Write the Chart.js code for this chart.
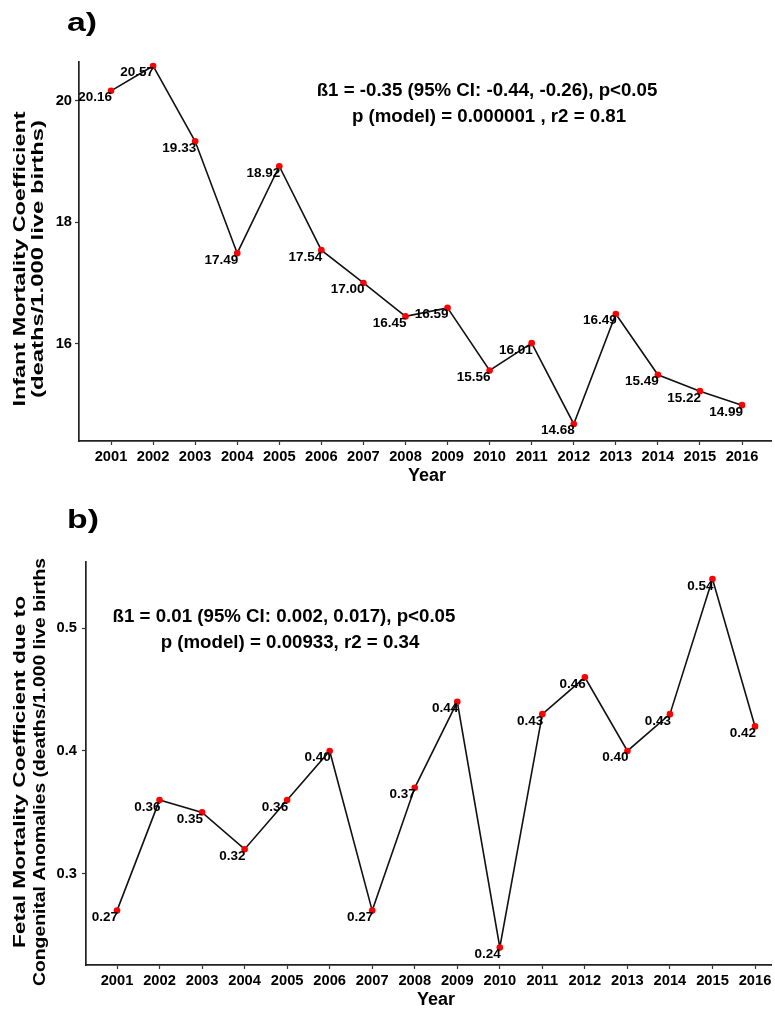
<!DOCTYPE html>
<html>
<head>
<meta charset="utf-8">
<title>Infant and fetal mortality, 2001-2016</title>
<script src="https://cdn.jsdelivr.net/npm/chart.js@4.4.1/dist/chart.umd.min.js"></script>
<style>
  html, body { margin: 0; padding: 0; background: #fff; }
  #wrap { position: relative; width: 775px; height: 1011px; overflow: hidden; }
  #chartA { position: absolute; left: 0; top: 0; }
  #chartB { position: absolute; left: 0; top: 495px; }
</style>
</head>
<body>
<div id="wrap">
  <canvas id="chartA" width="775" height="495"></canvas>
  <canvas id="chartB" width="775" height="516"></canvas>
</div>
<script>
// data
const years = [2001, 2002, 2003, 2004, 2005, 2006, 2007, 2008, 2009, 2010, 2011, 2012, 2013, 2014, 2015, 2016];
const infantRate = [20.16, 20.57, 19.33, 17.49, 18.92, 17.54, 17.00, 16.45, 16.59, 15.56, 16.01, 14.68, 16.49, 15.49, 15.22, 14.99];
const fetalRate = [0.27, 0.36, 0.35, 0.32, 0.36, 0.40, 0.27, 0.37, 0.44, 0.24, 0.43, 0.46, 0.40, 0.43, 0.54, 0.42];
const infantTicks = [16, 18, 20];
const fetalTicks = [0.3, 0.4, 0.5];

const infantTitle = ['Infant Mortality Coefficient', '(deaths/1.000 live births)'];
const fetalTitle = ['Fetal Mortality Coefficient due to', 'Congenital Anomalies (deaths/1.000 live births'];
const infantNote = ['ß1 = -0.35 (95% CI: -0.44, -0.26), p<0.05', 'p (model) = 0.000001 , r2 = 0.81'];
const fetalNote = ['ß1 = 0.01 (95% CI: 0.002, 0.017), p<0.05', 'p (model) = 0.00933, r2 = 0.34'];

const FONT = '"Liberation Sans", Arial, sans-serif';
const INK = '#000';

// value labels, right/top aligned on each point (like hjust=1, vjust=1)
const pointLabels = {
    id: 'pointLabels',
    afterDatasetsDraw(chart) {
        const ctx = chart.ctx;
        const meta = chart.getDatasetMeta(0);
        const values = chart.data.datasets[0].data;
        ctx.save();
        ctx.font = 'bold 13.5px ' + FONT;
        ctx.fillStyle = INK;
        ctx.textAlign = 'right';
        ctx.textBaseline = 'top';
        meta.data.forEach((pt, i) => {
            ctx.fillText(values[i].y.toFixed(2), pt.x + 1, pt.y);
        });
        ctx.restore();
    }
};

// panel letter, regression note and the two-line y title
const panelText = {
    id: 'panelText',
    afterDraw(chart, args, opts) {
        const ctx = chart.ctx;
        ctx.save();
        ctx.fillStyle = INK;

        ctx.font = 'bold 26px ' + FONT;
        ctx.textAlign = 'left';
        ctx.textBaseline = 'middle';
        ctx.save();
        ctx.translate(opts.letterAt[0], opts.letterAt[1]);
        ctx.scale(1.3, 1);
        ctx.fillText(opts.letter, 0, 0);
        ctx.restore();

        ctx.font = 'bold 18.7px ' + FONT;
        ctx.textAlign = 'center';
        opts.note.forEach((line, i) => {
            ctx.fillText(line, opts.noteAt[i][0], opts.noteAt[i][1]);
        });

        ctx.font = 'bold 16.5px ' + FONT;
        opts.yTitle.forEach((line, i) => {
            const [x, len] = opts.yTitleAt[i];
            ctx.save();
            ctx.translate(x, opts.yTitleCenter);
            ctx.rotate(-Math.PI / 2);
            ctx.scale(len / ctx.measureText(line).width, 1);
            ctx.fillText(line, 0, 0);
            ctx.restore();
        });

        // "Year" is centred a bit right of the axis in panel b
        ctx.font = 'bold 18px ' + FONT;
        ctx.fillText('Year', opts.yearAt[0], opts.yearAt[1]);
        ctx.restore();
    }
};

function makePanel(canvasId, values, yTicks, cfg) {
    const ctx = document.getElementById(canvasId).getContext('2d');
    return new Chart(ctx, {
        type: 'line',
        data: {
            datasets: [{
                data: years.map((y, i) => ({ x: y, y: values[i] })),
                borderColor: '#111',
                borderWidth: 1.6,
                pointRadius: 3.3,
                pointBackgroundColor: '#ff0000',
                pointBorderColor: '#ff0000',
                pointBorderWidth: 0,
                tension: 0
            }]
        },
        options: {
            responsive: false,
            animation: false,
            devicePixelRatio: 1,
            layout: { padding: { left: 0, top: cfg.top, right: 4, bottom: 0 } },
            plugins: {
                legend: { display: false },
                tooltip: { enabled: false },
                panelText: cfg.text
            },
            scales: {
                x: {
                    type: 'linear',
                    min: cfg.xMin,
                    max: cfg.xMax,
                    afterBuildTicks: s => { s.ticks = years.map(v => ({ value: v })); },
                    afterFit: s => { s.height = cfg.xHeight; },
                    grid: { drawOnChartArea: false, tickLength: 4, tickColor: '#333', tickWidth: 1.2 },
                    border: { color: '#222', width: 1.7 },
                    ticks: {
                        autoSkip: false,
                        maxRotation: 0,
                        padding: cfg.xPad,
                        color: INK,
                        font: { family: FONT, size: 14.7, weight: 'bold' },
                        callback: v => String(v)
                    }
                },
                y: {
                    min: cfg.yMin,
                    max: cfg.yMax,
                    afterBuildTicks: s => { s.ticks = yTicks.map(v => ({ value: v })); },
                    afterFit: s => { s.width = cfg.yWidth; },
                    grid: { drawOnChartArea: false, tickLength: 4, tickColor: '#333', tickWidth: 1.2 },
                    border: { color: '#222', width: 1.7 },
                    ticks: {
                        padding: cfg.yPad,
                        color: INK,
                        font: { family: FONT, size: 14.7, weight: 'bold' },
                        callback: cfg.fmt
                    }
                }
            }
        },
        plugins: [pointLabels, panelText]
    });
}

document.addEventListener('DOMContentLoaded', function () {
    makePanel('chartA', infantRate, infantTicks, {
        top: 62, xHeight: 54, yWidth: 79,
        xMin: 2000.239, xMax: 2016.689,
        yMin: 14.40, yMax: 20.635,
        xPad: 3, yPad: 3,
        fmt: v => String(v),
        text: {
            letter: 'a)', letterAt: [67, 24],
            note: infantNote, noteAt: [[487, 91], [489, 117]],
            yTitle: infantTitle, yTitleAt: [[20, 295], [38.5, 278]], yTitleCenter: 259,
            yearAt: [427, 476]
        }
    });

    makePanel('chartB', fetalRate, fetalTicks, {
        top: 67, xHeight: 46, yWidth: 86,
        xMin: 2000.271, xMax: 2016.376,
        yMin: 0.2257, yMax: 0.5539,
        xPad: 3, yPad: 5,
        fmt: v => v.toFixed(1),
        text: {
            letter: 'b)', letterAt: [67, 26],
            note: fetalNote, noteAt: [[284, 122], [290, 148]],
            yTitle: fetalTitle, yTitleAt: [[20, 352], [40, 428]], yTitleCenter: 277,
            yearAt: [436, 505]
        }
    });
});
</script>
</body>
</html>
